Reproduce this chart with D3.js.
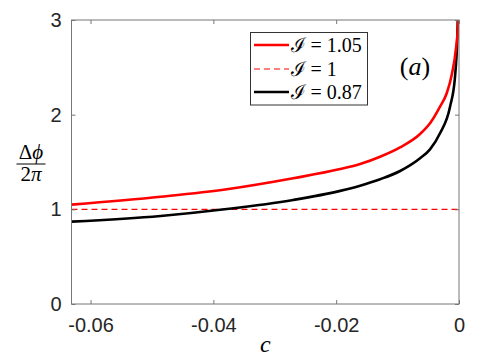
<!DOCTYPE html>
<html>
<head>
  <meta charset="utf-8" />
  <script src="https://cdn.jsdelivr.net/npm/d3@7"></script>
  <style>
    body{ margin:0; background:white; }
    svg{ display:block; }
  </style>
</head>
<body>
  <script>
    // - - - - - DATA - - - - - //
    // I = 1.05 curve (c, delta phi / 2 pi)
    var cRed = [-0.0631, -0.0486, -0.0378, -0.0270, -0.01935, -0.0161, -0.01285, -0.00959, -0.00634, -0.00472, -0.00309, -0.0020, -0.00119, -0.00049, -0.00011, 0];
    var yRed = [1.05, 1.133, 1.212, 1.328, 1.425, 1.479, 1.556, 1.655, 1.796, 1.909, 2.085, 2.226, 2.419, 2.70, 3.0, 3.4];
    // I = 0.87 curve
    var cBlack = [-0.0631, -0.0486, -0.0378, -0.0270, -0.01935, -0.0161, -0.01285, -0.00959, -0.00634, -0.00472, -0.00309, -0.00146, -0.00065, -0.00028, 0];
    var yBlack = [0.87, 0.93, 1.003, 1.099, 1.195, 1.25, 1.318, 1.405, 1.539, 1.634, 1.803, 2.084, 2.40, 2.80, 3.5];
    // I = 1 reference level
    var refLevel = 1;
    var xTicks = [-0.06, -0.04, -0.02, 0];
    var xTickLabels = ["-0.06", "-0.04", "-0.02", "0"];
    var yTicks = [0, 1, 2, 3];
    var legendLabels = ["\u2110 = 1.05", "\u2110 = 1", "\u2110 = 0.87"];

    // - - - - - CANVAS - - - - - //
    var w = 498, h = 362;
    var pLeft = 71.5, pRight = 459, pTop = 20, pBottom = 304;

    var svg = d3.select("body").append("svg")
      .attr("width", w)
      .attr("height", h);

    var x = d3.scaleLinear().domain([-0.0631, 0]).range([pLeft, pRight]);
    var y = d3.scaleLinear().domain([0, 3]).range([pBottom, pTop]);

    svg.append("clipPath").attr("id", "clip")
      .append("rect")
      .attr("x", pLeft).attr("y", pTop)
      .attr("width", pRight - pLeft).attr("height", pBottom - pTop);

    var plot = svg.append("g").attr("clip-path", "url(#clip)");

    var line = d3.line()
      .x(function(d){ return x(d[0]); })
      .y(function(d){ return y(d[1]); })
      .curve(d3.curveMonotoneX);

    // dashed I = 1
    plot.append("line")
      .attr("x1", x(-0.0631)).attr("x2", x(0))
      .attr("y1", y(refLevel)).attr("y2", y(refLevel))
      .attr("stroke", "#ff0000")
      .attr("stroke-width", 1.1)
      .attr("stroke-dasharray", "6,4");

    plot.append("path")
      .datum(d3.zip(cBlack, yBlack))
      .attr("d", line)
      .attr("fill", "none")
      .attr("stroke", "#000")
      .attr("stroke-width", 2.6);

    plot.append("path")
      .datum(d3.zip(cRed, yRed))
      .attr("d", line)
      .attr("fill", "none")
      .attr("stroke", "#ff0000")
      .attr("stroke-width", 2.6);

    // - - - - - AXES - - - - - //
    var axisColor = "#777";
    var tickFont = "'Liberation Sans', Arial, sans-serif";

    svg.append("rect")
      .attr("x", pLeft).attr("y", pTop)
      .attr("width", pRight - pLeft).attr("height", pBottom - pTop)
      .attr("fill", "none")
      .attr("stroke", axisColor)
      .attr("stroke-width", 1);

    var xb = d3.axisBottom(x).tickValues(xTicks)
      .tickFormat(function(d,i){ return xTickLabels[i]; })
      .tickSizeInner(-4).tickSizeOuter(0).tickPadding(14);
    var xt = d3.axisTop(x).tickValues(xTicks).tickFormat("")
      .tickSizeInner(-4).tickSizeOuter(0);
    var yl = d3.axisLeft(y).tickValues(yTicks).tickFormat(d3.format("d"))
      .tickSizeInner(-4).tickSizeOuter(0).tickPadding(10);
    var yr = d3.axisRight(y).tickValues(yTicks).tickFormat("")
      .tickSizeInner(-4).tickSizeOuter(0);

    [[xb, "translate(0," + pBottom + ")"], [xt, "translate(0," + pTop + ")"],
     [yl, "translate(" + pLeft + ",0)"], [yr, "translate(" + pRight + ",0)"]].forEach(function(a){
      var g = svg.append("g").attr("transform", a[1]).call(a[0]);
      g.select(".domain").remove();
      g.selectAll(".tick line").attr("stroke", axisColor);
      g.selectAll("text")
        .attr("font-family", tickFont)
        .attr("font-size", "20px")
        .attr("fill", "#262626");
    });

    // x label
    svg.append("text")
      .attr("x", (pLeft + pRight) / 2)
      .attr("y", 352)
      .attr("text-anchor", "middle")
      .attr("font-family", "'Liberation Serif', 'DejaVu Serif', serif")
      .attr("font-style", "italic")
      .attr("font-size", "24px")
      .text("c");

    // y label as fraction
    var fr = svg.append("g").attr("font-family", "'Liberation Serif', 'DejaVu Serif', serif")
      .attr("font-size", "21px").attr("fill", "#000");
    fr.append("text").attr("x", 31).attr("y", 159).attr("text-anchor", "middle")
      .html("\u0394<tspan font-style='italic'>\u03D5</tspan>");
    fr.append("line").attr("x1", 16.5).attr("x2", 45.5)
      .attr("y1", 164).attr("y2", 164)
      .attr("stroke", "#000").attr("stroke-width", 1);
    fr.append("text").attr("x", 31).attr("y", 181).attr("text-anchor", "middle")
      .html("2<tspan font-style='italic'>\u03C0</tspan>");

    // panel tag
    svg.append("text")
      .attr("x", 415).attr("y", 75)
      .attr("text-anchor", "middle")
      .attr("font-family", "'Liberation Serif', 'DejaVu Serif', serif")
      .attr("font-size", "26px")
      .html("(<tspan font-style='italic'>a</tspan>)");

    // - - - - - LEGEND - - - - - //
    var leg = svg.append("g");
    leg.append("rect")
      .attr("x", 250.5).attr("y", 32.5)
      .attr("width", 117).attr("height", 72.5)
      .attr("fill", "white")
      .attr("stroke", "#333")
      .attr("stroke-width", 1);

    var legStyles = [
      {color: "#ff0000", width: 2.6, dash: null},
      {color: "#ff0000", width: 1.1, dash: "6,4"},
      {color: "#000", width: 2.6, dash: null}
    ];
    var rowY = [45, 69, 92];

    legendLabels.forEach(function(lab, i){
      leg.append("line")
        .attr("x1", 254).attr("x2", 289)
        .attr("y1", rowY[i]).attr("y2", rowY[i])
        .attr("stroke", legStyles[i].color)
        .attr("stroke-width", legStyles[i].width)
        .attr("stroke-dasharray", legStyles[i].dash);
      leg.append("text")
        .attr("x", 290.5).attr("y", rowY[i] + 7)
        .attr("font-family", "'Liberation Serif', 'DejaVu Serif', serif")
        .attr("font-size", "20px")
        .text(lab);
    });
  </script>
</body>
</html>
